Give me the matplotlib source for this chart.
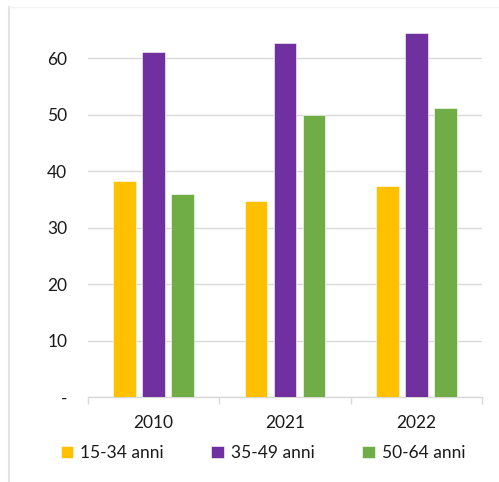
import matplotlib.pyplot as plt
from matplotlib.lines import Line2D
import numpy as np

plt.rcParams['font.family'] = ['Lato', 'DejaVu Sans']

# Dati: quota per classe di età
anni = ['2010', '2021', '2022']
classi = ['15-34 anni', '35-49 anni', '50-64 anni']
v_15_34 = [38.3, 34.8, 37.4]
v_35_49 = [61.2, 62.8, 64.5]
v_50_64 = [35.9, 50.0, 51.2]
colori = ['#ffc000', '#7030a0', '#70ad47']

fig = plt.figure(figsize=(4.99, 4.82), dpi=100)
W, H = 499, 482

# Cornice esterna grigio chiaro
fig.add_artist(Line2D([9 / W, 9 / W], [0, 1 - 7 / H], color='#e3e3e3', lw=1.5))
fig.add_artist(Line2D([9 / W, 1], [1 - 7 / H, 1 - 7 / H], color='#f3f3f3', lw=1))

ax = fig.add_axes([88 / W, (H - 397) / H, (482 - 88) / W, (397 - 20) / H])

x = np.arange(len(anni))
step, bw = 0.221, 0.171
serie = [v_15_34, v_35_49, v_50_64]
for i, (vals, col) in enumerate(zip(serie, colori)):
    ax.bar(x + (i - 1) * step, vals, width=bw, color=col, label=classi[i],
           edgecolor='white', linewidth=0.4, zorder=3)

ax.set_xlim(-0.5, 2.5)
ax.set_ylim(0, 66.8)
ax.set_yticks(range(0, 70, 10))
ax.set_yticklabels(['-'] + [str(v) for v in range(10, 70, 10)])
ax.set_xticks(x)
ax.set_xticklabels(anni)
ax.set_xticks([-0.5, 0.5, 1.5, 2.5], minor=True)

ax.grid(axis='y', color='#d9d9d9', lw=1, zorder=0)
for s in ['top', 'right', 'left']:
    ax.spines[s].set_visible(False)
ax.spines['bottom'].set_color('#d9d9d9')
ax.spines['bottom'].set_linewidth(1)

ax.tick_params(axis='y', length=0, pad=15, labelsize=12.5, labelcolor='#1a1a1a')
ax.tick_params(axis='x', which='major', length=0, pad=13, labelsize=12.5, labelcolor='#1a1a1a')
ax.tick_params(axis='x', which='minor', length=5, width=1, color='#d9d9d9')

fig.legend(loc='center', bbox_to_anchor=(263 / W, 1 - 453 / H), ncol=3,
           frameon=False, fontsize=12.5, handlelength=0.72, handleheight=0.72,
           handletextpad=0.4, columnspacing=2.75, labelcolor='#1a1a1a')

fig.savefig('out.png', dpi=100)
